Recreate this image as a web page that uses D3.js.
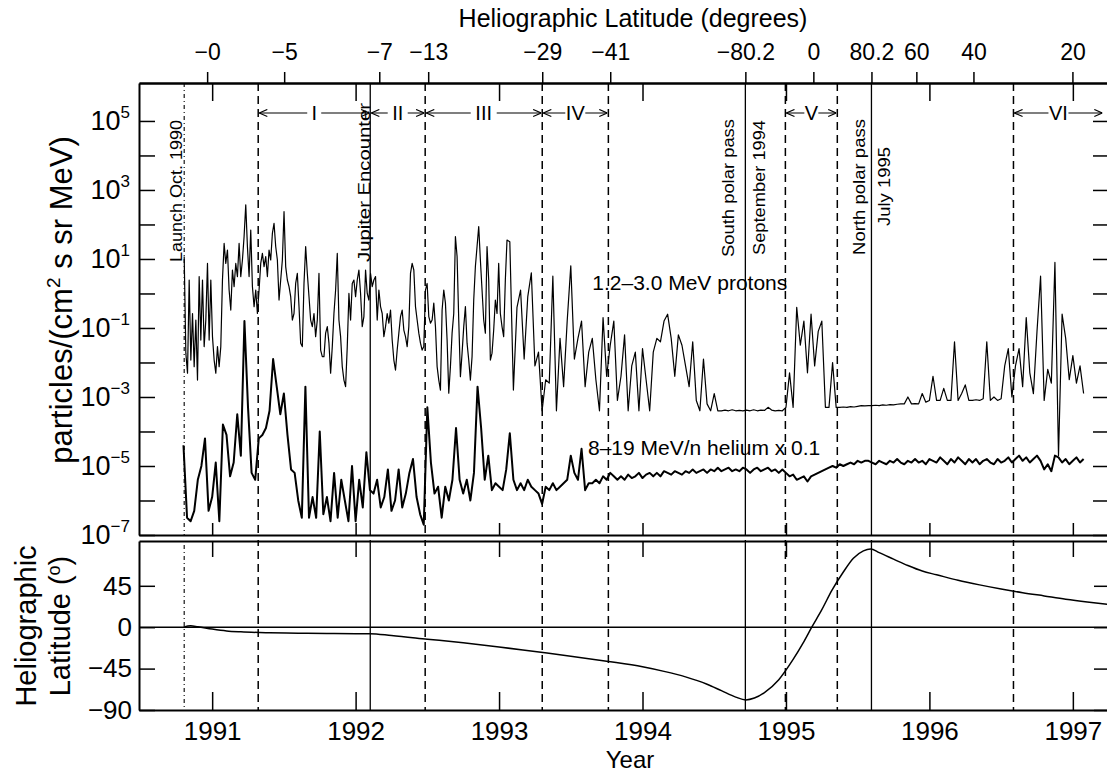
<!DOCTYPE html>
<html><head><meta charset="utf-8">
<script src="https://cdn.jsdelivr.net/npm/d3@7/dist/d3.min.js"></script>
<style>
body{margin:0;background:#fff;}
svg{display:block;font-family:"Liberation Sans",Arial,Helvetica,sans-serif;}
</style></head><body>
<svg id="chart" width="1107" height="774"></svg>
<script>
// ---------------- data ----------------
const years = [1991, 1992, 1993, 1994, 1995, 1996, 1997];
// 1.2-3.0 MeV protons, log10 of intensity: early part (fine sampling)
const protonEarlyStart = 1990.805, protonEarlyStep = 0.0116;
const protonEarlyLog10 = [
 1.07,-1.73,-2.31,0.39,-1.93,-0.58,-2.12,-0.77,-2.51,0.49,
 -1.35,0.39,-1.54,-0.77,0.87,-1.35,0.39,-1.25,-1.93,-2.31,
 -1.54,-2.12,-1.54,0.39,1.45,0.87,1.26,0.10,-0.48,0.68,
 0.20,0.87,0.49,1.45,0.49,0.97,1.65,2.57,1.36,0.49,
 1.84,0.20,-0.38,0.10,-0.58,0.10,0.87,1.16,0.78,1.07,
 0.49,1.26,0.97,1.74,2.03,1.36,0.97,-0.19,0.39,0.97,
 2.37,0.78,0.39,0.20,-0.09,-0.77,-0.58,0.29,0.58,-0.38,
 -1.44,-1.54,0.29,1.36,0.58,-0.09,-0.77,-0.96,-0.58,-1.25,
 -0.77,0.58,-1.64,-1.83,-1.83,-1.15,-0.96,-1.44,-2.31,-1.54,
 -0.58,0.10,1.16,-0.77,-1.25,-2.12,-2.51,-2.70,-1.54,0.00,
 -0.77,0.29,0.39,-0.09,0.39,0.68,0.00,-0.96,-0.67,0.68,
 0.00,-0.19,0.58,0.20,0.39,0.49,-0.77,0.10,-0.38,-0.58,
 -1.25,-0.96,-0.58,-0.86,-0.48,-1.35,-1.93,-2.22,-1.64,-1.15,
 -0.67,-0.48,-1.06,-1.25,-1.54,-0.96,0.58,0.87,0.68,-0.38,
 -0.77,-1.15,-1.44,-1.64,-1.54,0.10,0.29,-0.67,-0.86,-0.77,
 -0.28,-0.96,-2.12,-2.51,-2.80,-0.48,0.10,-0.28,-1.35,-2.89,
 -2.12,-1.15,-0.58,1.65,1.07,-0.77,-2.41,-1.73,-0.96,-0.38,
 -1.44,-1.93,-2.51,-1.83,-0.19,0.78,1.36,1.94,0.97,0.10,
 -0.77,-1.15,1.36,0.39,-1.93,-1.73,-1.06,-0.19,-0.58,0.87,
 -0.58,-0.96,-1.25,0.39,1.55
];
// protons, later part
const protonLateStart = 1993.075, sampleStep = 0.025;
const protonLateLog10 = [
 1.5,-2.8,-0.4,0.1,-1.9,-0.1,0.6,-2.1,-1.7,
 -3.4,-2.5,-2.6,0.5,-3.4,-1.3,-2.7,-0.8,0.8,-1.9,
 -1.3,-0.8,-2.7,-1.7,-1.3,-2.5,-3.4,-0.7,-2.4,-1.5,
 -0.8,-3.1,-2.4,-1.2,-3.4,-2.1,-1.7,-3.4,-1.6,-2.5,
 -3.4,-1.7,-1.3,-1.4,-0.8,-0.6,-1.3,-2.4,-1.2,-1.5,
 -2.1,-2.7,-1.4,-3.1,-3.4,-1.9,-3.2,-3.4,-2.9,-3.4,
 -3.4,-3.38,-3.4,-3.37,-3.4,-3.39,-3.4,-3.38,-3.4,-3.37,
 -3.4,-3.38,-3.39,-3.3,-3.38,-3.4,-3.39,-3.4,-3.3,-2.3,
 -3.3,-0.4,-1.5,-0.8,-2.3,-0.6,-2.1,-1.1,-0.8,-3.3,
 -3.3,-2.0,-3.3,-3.3,-3.29,-3.3,-3.28,-3.29,-3.27,-3.25,
 -3.26,-3.25,-3.25,-3.24,-3.25,-3.23,-3.24,-3.22,-3.23,-3.21,
 -3.2,-3.2,-3.0,-3.2,-3.19,-3.2,-2.9,-3.15,-3.1,-2.4,
 -3.1,-3.1,-2.75,-3.1,-3.1,-1.4,-3.1,-2.9,-2.65,-3.1,
 -3.1,-3.08,-3.1,-3.05,-1.4,-3.1,-3.0,-3.1,-3.05,-2.1,
 -1.6,-3.0,-2.1,-1.6,-2.7,-0.7,-2.3,-2.9,-1.1,0.5,
 -3.1,-2.2,-2.6,0.9,-4.7,-0.6,-1.3,-2.5,-1.8,-2.6,
 -2.1,-2.9
];
// 8-19 MeV/n helium x 0.1, log10 of intensity
const heliumStart = 1990.80;
const heliumLog10 = [
 -4.4,-6.5,-6.6,-6.3,-5.4,-5.0,-4.2,-6.3,-5.9,-4.9,
 -6.6,-3.8,-4.1,-5.3,-4.9,-3.5,-4.7,-0.8,-3.3,-5.2,
 -5.4,-4.2,-4.1,-3.9,-3.4,-1.9,-2.7,-3.5,-2.9,-4.1,
 -5.1,-5.2,-6.0,-6.5,-2.7,-6.5,-5.9,-6.5,-4.0,-6.4,
 -5.9,-6.6,-5.2,-6.5,-5.4,-6.0,-6.6,-5.0,-6.6,-5.4,
 -6.2,-4.6,-5.7,-5.8,-5.4,-6.2,-5.9,-5.1,-6.3,-6.0,
 -5.1,-6.2,-5.8,-5.2,-4.8,-5.9,-6.4,-6.7,-3.3,-4.9,
 -5.8,-5.6,-6.5,-5.6,-6.0,-5.4,-3.9,-5.4,-5.8,-5.4,
 -6.0,-5.2,-2.7,-3.9,-5.4,-4.7,-5.7,-5.5,-5.6,-5.7,
 -5.1,-4.05,-5.4,-5.7,-5.5,-5.7,-5.4,-5.6,-5.7,-5.8,
 -6.1,-5.6,-5.7,-5.5,-5.7,-5.6,-5.5,-5.4,-4.7,-5.2,
 -5.4,-4.5,-5.7,-5.5,-5.5,-5.4,-5.5,-5.3,-5.4,-5.2,
 -5.3,-5.4,-5.3,-5.4,-5.25,-5.35,-5.3,-5.2,-5.35,-5.25,
 -5.2,-5.3,-5.2,-5.3,-5.15,-5.2,-5.25,-5.15,-5.2,-5.25,
 -5.15,-5.2,-5.1,-5.2,-5.15,-5.1,-5.2,-5.1,-5.15,-5.05,
 -5.15,-5.1,-5.05,-5.15,-5.1,-5.15,-5.05,-5.1,-5.2,-5.1,
 -5.05,-5.15,-5.1,-5.05,-5.15,-5.1,-5.2,-5.1,-5.2,-5.3,
 -5.25,-5.4,-5.35,-5.3,-5.45,-5.3,-5.25,-5.2,-5.15,-5.1,
 -5.05,-5.0,-5.05,-4.95,-5.0,-4.95,-4.9,-4.95,-4.85,-4.9,
 -4.85,-4.85,-4.9,-4.95,-4.85,-4.9,-4.95,-4.85,-4.9,-4.8,
 -4.9,-4.95,-4.85,-4.9,-4.8,-4.9,-4.85,-4.95,-4.8,-4.85,
 -4.9,-4.75,-4.85,-4.95,-4.8,-4.9,-4.75,-4.85,-4.95,-4.8,
 -4.9,-4.8,-4.95,-4.85,-4.8,-4.9,-4.95,-4.8,-4.9,-4.85,
 -4.75,-4.9,-4.8,-4.7,-4.85,-4.75,-4.9,-4.8,-4.7,-4.85,
 -5.1,-4.95,-5.15,-4.7,-4.75,-4.9,-4.8,-4.95,-4.85,-4.75,
 -4.9,-4.8
];
// Heliographic latitude of the spacecraft
const latTimes = [1990.80,1990.85,1990.90,1991.00,1991.10,1991.20,1991.40,1991.60,1991.80,1992.00,
 1992.10,1992.25,1992.50,1992.75,1993.00,1993.25,1993.50,1993.75,1994.00,1994.15,
 1994.30,1994.45,1994.55,1994.65,1994.72,1994.78,1994.85,1994.95,1995.05,1995.12,
 1995.18,1995.25,1995.32,1995.40,1995.47,1995.54,1995.59,1995.65,1995.75,1995.85,
 1995.95,1996.05,1996.20,1996.35,1996.50,1996.65,1996.80,1996.95,1997.10,1997.24];
const latDegrees = [0,1.5,0.5,-2,-4,-5,-6,-6.5,-6.8,-7,
 -7,-9,-13,-17,-21.5,-26.5,-31.5,-37,-43,-48,
 -54,-62,-69,-76,-79,-77,-71,-57,-35,-17,
 0,19,40,60,75,83,85,81,74,67,
 61,57,51,46,41.5,37.5,34,30.5,27.5,25];
// top axis: latitude at selected times
const topTickTimes = [1990.965,1991.502,1992.165,1992.506,1993.301,1993.775,1994.717,1995.191,1995.596,1995.909,1996.307,1996.997];
const topTickLabels = ["\u22120","\u22125","\u22127","\u221213","\u221229","\u221241","\u221280.2","0","80.2","60","40","20"];
const fluxDecades = [-7,-6,-5,-4,-3,-2,-1,0,1,2,3,4,5];
const fluxLabelDecades = [-7,-5,-3,-1,1,3,5];
const latTicks = [-90,-45,0,45];
// event markers
const launchTime = 1990.805;
const boundaryTimes = [1991.321,1992.485,1993.301,1993.762,1994.996,1995.358,1996.586];
const encounterTimes = [1992.102,1994.717,1995.596];
const periodLabels = ["I","II","III","IV","V","VI"];
const periodStart = [1991.321,1992.102,1992.485,1993.301,1994.996,1996.586];
const periodEnd   = [1992.102,1992.485,1993.301,1993.762,1995.358,1997.213];
const noteTexts = ["Launch Oct. 1990","Jupiter Encounter","South polar pass","September 1994","North polar pass","July 1995"];
const noteTimes = [1990.805,1992.102,1994.717,1994.717,1995.596,1995.596];

// ---------------- layout ----------------
const L = 139, R = 1108, T1 = 83, B1 = 535, T2 = 541, B2 = 710;
const svg = d3.select("#chart");
const xScale = d3.scaleLinear().domain([1990.49, 1997.245]).range([L, R]);
const yFlux = d3.scaleLog().domain([1e-7, Math.pow(10, 6.1)]).range([B1, T1]);
const yLat = d3.scaleLinear().domain([-90, 93.7]).range([B2, T2]);

const protonPoints = protonEarlyLog10.map((v,i)=>({t: protonEarlyStart + i*protonEarlyStep, v}))
  .concat(protonLateLog10.map((v,i)=>({t: protonLateStart + i*sampleStep, v})));
const heliumPoints = heliumLog10.map((v,i)=>({t: heliumStart + i*sampleStep, v}));

svg.append("rect").attr("width",1107).attr("height",774).attr("fill","#fff");

const defs = svg.append("defs");
defs.append("clipPath").attr("id","clipTop").append("rect")
  .attr("x",L).attr("y",T1).attr("width",R-L).attr("height",B1-T1);
defs.append("clipPath").attr("id","clipBot").append("rect")
  .attr("x",L).attr("y",T2).attr("width",R-L).attr("height",B2-T2);
defs.append("marker").attr("id","arr").attr("viewBox","0 -5 10 10")
  .attr("refX",10).attr("refY",0).attr("markerWidth",9).attr("markerHeight",9)
  .attr("markerUnits","userSpaceOnUse").attr("orient","auto-start-reverse")
  .append("path").attr("d","M1,-4L10,0L1,4").attr("fill","none").attr("stroke","#000").attr("stroke-width",1.2);

// event lines through both panels
const ev = svg.append("g").attr("stroke","#000").attr("fill","none");
ev.append("line").attr("x1",xScale(launchTime)).attr("x2",xScale(launchTime))
  .attr("y1",T1).attr("y2",B2).attr("stroke-width",1.1).attr("stroke-dasharray","4,3,1,3");
ev.selectAll(".bd").data(boundaryTimes).join("line").attr("class","bd")
  .attr("x1",d=>xScale(d)).attr("x2",d=>xScale(d)).attr("y1",T1).attr("y2",B2)
  .attr("stroke-width",1.5).attr("stroke-dasharray","8,5");
ev.selectAll(".en").data(encounterTimes).join("line").attr("class","en")
  .attr("x1",d=>xScale(d)).attr("x2",d=>xScale(d)).attr("y1",T1).attr("y2",B2)
  .attr("stroke-width",1.3);

// white gap between panels
svg.append("rect").attr("x",L-1).attr("y",B1+1).attr("width",R-L+2).attr("height",T2-B1-2).attr("fill","#fff");

// data lines
const lineFlux = d3.line().x(d=>xScale(d.t)).y(d=>yFlux(Math.pow(10,d.v)));
const gData = svg.append("g").attr("clip-path","url(#clipTop)");
gData.append("path").datum(protonPoints).attr("d",lineFlux)
  .attr("fill","none").attr("stroke","#000").attr("stroke-width",1.2).attr("stroke-linejoin","round");
gData.append("path").datum(heliumPoints).attr("d",lineFlux)
  .attr("fill","none").attr("stroke","#000").attr("stroke-width",2).attr("stroke-linejoin","round");

// latitude panel
const gLat = svg.append("g").attr("clip-path","url(#clipBot)");
gLat.append("line").attr("x1",L).attr("x2",R).attr("y1",yLat(0)).attr("y2",yLat(0))
  .attr("stroke","#000").attr("stroke-width",1.6);
gLat.append("path").datum(latDegrees)
  .attr("d", d3.line().curve(d3.curveMonotoneX).x((d,i)=>xScale(latTimes[i])).y(d=>yLat(d)))
  .attr("fill","none").attr("stroke","#000").attr("stroke-width",1.5);

// ---------------- axes ----------------
function styleAxis(g, size){
  g.selectAll("path.domain").attr("stroke","#000").attr("stroke-width",2);
  g.selectAll(".tick line").attr("stroke","#000").attr("stroke-width",1.5);
  g.selectAll(".tick text").attr("fill","#000").attr("font-size",size)
   .attr("font-family","'Liberation Sans',Arial,Helvetica,sans-serif");
  g.attr("font-family",null).attr("font-size",null);
}
let g = svg.append("g").attr("transform",`translate(0,${T1})`)
  .call(d3.axisTop(xScale).tickValues(topTickTimes).tickFormat((d,i)=>topTickLabels[i])
  .tickSize(11).tickPadding(12).tickSizeOuter(0));
styleAxis(g, 23);
g = svg.append("g").attr("transform",`translate(0,${T1})`)
  .call(d3.axisTop(xScale).tickValues(years).tickFormat("").tickSize(-18).tickSizeOuter(0));
styleAxis(g, 10);
g = svg.append("g").attr("transform",`translate(0,${B1})`)
  .call(d3.axisBottom(xScale).tickValues(years).tickFormat("").tickSize(-12).tickSizeOuter(0));
styleAxis(g, 10);
g = svg.append("g").attr("transform",`translate(0,${T2})`)
  .call(d3.axisTop(xScale).tickValues(years).tickFormat("").tickSize(-16).tickSizeOuter(0));
styleAxis(g, 10);
g = svg.append("g").attr("transform",`translate(0,${B2})`)
  .call(d3.axisBottom(xScale).tickValues(years).tickFormat(d3.format("d")).tickSize(-18).tickPadding(12).tickSizeOuter(0));
styleAxis(g, 26);
g = svg.append("g").attr("transform",`translate(${L},0)`)
  .call(d3.axisLeft(yFlux).tickValues(fluxDecades.map(e=>Math.pow(10,e))).tickFormat("").tickSize(-16).tickSizeOuter(0));
styleAxis(g, 10);
g = svg.append("g").attr("transform",`translate(${R},0)`)
  .call(d3.axisRight(yFlux).tickValues(fluxDecades.map(e=>Math.pow(10,e))).tickFormat("").tickSize(-15).tickSizeOuter(0));
styleAxis(g, 10);
g = svg.append("g").attr("transform",`translate(${L},0)`)
  .call(d3.axisLeft(yLat).tickValues(latTicks).tickFormat(d=>d<0?"\u2212"+Math.abs(d):String(d)).tickSize(-16).tickPadding(7).tickSizeOuter(0));
styleAxis(g, 26);
g = svg.append("g").attr("transform",`translate(${R},0)`)
  .call(d3.axisRight(yLat).tickValues(latTicks).tickFormat("").tickSize(-14).tickSizeOuter(0));
styleAxis(g, 10);

// flux tick labels with superscripts
const fl = svg.append("g").attr("font-size",27).attr("fill","#000");
fl.selectAll("text").data(fluxLabelDecades).join("text")
  .attr("x",130).attr("y",d=>yFlux(Math.pow(10,d))+9).attr("text-anchor","end")
  .each(function(d){
    const t = d3.select(this);
    t.append("tspan").text("10");
    t.append("tspan").attr("font-size",17).attr("dy",-12).text(d<0?"\u2212"+Math.abs(d):String(d));
  });

// ---------------- titles ----------------
svg.append("text").attr("x",633).attr("y",27).attr("text-anchor","middle")
  .attr("font-size",25).text("Heliographic Latitude (degrees)");
svg.append("text").attr("x",630).attr("y",768).attr("text-anchor","middle")
  .attr("font-size",24).text("Year");
const yl = svg.append("text").attr("transform","translate(72,300) rotate(-90)")
  .attr("text-anchor","middle").attr("font-size",31);
yl.append("tspan").text("particles/(cm");
yl.append("tspan").attr("font-size",19).attr("dy",-12).text("2");
yl.append("tspan").attr("dy",12).text(" s sr MeV)");
svg.append("text").attr("transform","translate(36,626) rotate(-90)")
  .attr("text-anchor","middle").attr("font-size",29).text("Heliographic");
const yl2 = svg.append("text").attr("transform","translate(70,626) rotate(-90)")
  .attr("text-anchor","middle").attr("font-size",29);
yl2.append("tspan").text("Latitude (");
yl2.append("tspan").attr("font-size",18).attr("dy",-10).text("o");
yl2.append("tspan").attr("dy",10).text(")");

// series labels
svg.append("text").attr("x",xScale(1993.65)).attr("y",yFlux(Math.pow(10,0.1)))
  .attr("font-size",21).text("1.2\u20133.0 MeV protons");
svg.append("text").attr("x",xScale(1993.62)).attr("y",yFlux(Math.pow(10,-4.68)))
  .attr("font-size",21).text("8\u201319 MeV/n helium x 0.1");

// period arrows
const PY = 113;
const pg = svg.append("g");
periodLabels.forEach((lab,i)=>{
  const x1 = xScale(periodStart[i])+1, x2 = xScale(periodEnd[i])-1, xm = (x1+x2)/2;
  pg.append("line").attr("x1",x1).attr("x2",x2).attr("y1",PY).attr("y2",PY)
    .attr("stroke","#000").attr("stroke-width",1.1)
    .attr("marker-start","url(#arr)").attr("marker-end","url(#arr)");
  const w = lab.length*6+8;
  pg.append("rect").attr("x",xm-w/2).attr("y",PY-10).attr("width",w).attr("height",20).attr("fill","#fff");
  pg.append("text").attr("x",xm).attr("y",PY+7).attr("text-anchor","middle")
    .attr("font-size",20).text(lab);
});

// vertical annotations
const noteDx = [-8,-6,-17,14,-12,13];
const noteBottom = [262,262,257,255,255,226];
const noteLen = [142,159,138,135,136,79];
const ng = svg.append("g");
noteTexts.forEach((s,i)=>{
  const x = xScale(noteTimes[i]) + noteDx[i];
  ng.append("text").attr("transform",`translate(${x},${noteBottom[i]}) rotate(-90)`)
    .attr("dy","0.36em").attr("font-size",16).attr("textLength",noteLen[i])
    .attr("lengthAdjust","spacingAndGlyphs").text(s);
});
</script>
</body></html>
